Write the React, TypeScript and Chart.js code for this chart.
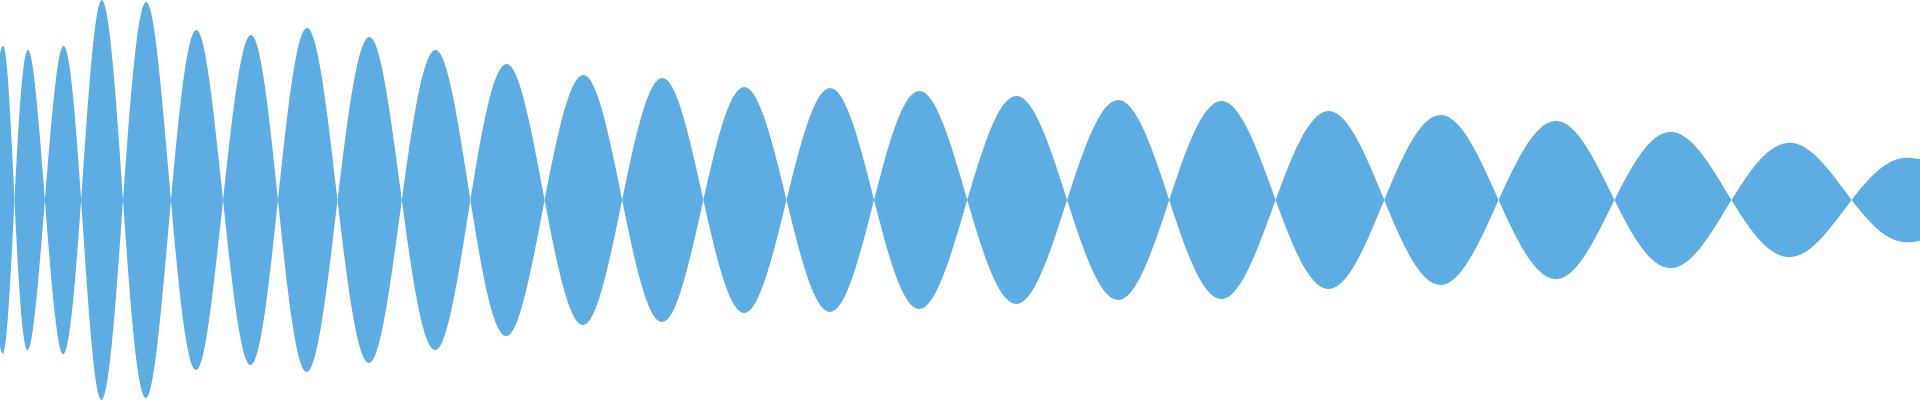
import React, { FC, useEffect, useRef } from 'react'
import Chart from 'chart.js/auto'

// centre of each lobe of the wave (x) and its height; the first and last
// entries sit just outside the visible range so the wave runs off both edges
const peakX = [
  -20, 3, 28, 64, 102, 146, 196, 251, 307, 369, 435, 506, 583, 662, 744, 830,
  919, 1016, 1118, 1221, 1328, 1440, 1555, 1669, 1787, 1903, 2019,
]
const peakAmp = [
  150, 154, 150, 154, 200, 198, 170, 165, 172, 163, 150, 136, 125, 122, 113,
  112, 109, 104, 100, 99, 89, 85, 79, 68, 57, 42, 30,
]

const COLOR = '#5dade2'

const App: FC = () => {
  const chartRef = useRef<HTMLCanvasElement>(null)
  const chartInstanceRef = useRef<Chart | null>(null)

  useEffect(() => {
    if (!chartRef.current) return
    const ctx = chartRef.current.getContext('2d')
    if (!ctx) return

    // signed wave: lobes alternate above and below the axis,
    // the mirrored copy fills the other half
    const wave = peakX.map((x, i) => ({
      x,
      y: i % 2 === 0 ? -peakAmp[i] : peakAmp[i],
    }))
    const mirror = wave.map((p) => ({ x: p.x, y: -p.y }))

    const series = (data: { x: number; y: number }[]) => ({
      data,
      fill: 'origin',
      backgroundColor: COLOR,
      borderColor: COLOR,
      borderWidth: 0,
      pointRadius: 0,
      tension: 0.36,
    })

    if (chartInstanceRef.current) {
      chartInstanceRef.current.destroy()
    }

    chartInstanceRef.current = new Chart(ctx, {
      type: 'line',
      data: { datasets: [series(wave), series(mirror)] as any },
      options: {
        responsive: true,
        maintainAspectRatio: false,
        animation: false,
        layout: { padding: 0 },
        plugins: {
          legend: { display: false },
          tooltip: { enabled: false },
        },
        scales: {
          x: { type: 'linear', min: 0, max: 1920, display: false },
          y: { min: -200, max: 200, display: false },
        },
      },
    })

    return () => {
      if (chartInstanceRef.current) {
        chartInstanceRef.current.destroy()
        chartInstanceRef.current = null
      }
    }
  }, [])

  return (
    <div
      style={{
        position: 'fixed',
        left: 0,
        top: 0,
        width: 1920,
        height: 400,
        background: '#fff',
      }}
    >
      <canvas ref={chartRef}></canvas>
    </div>
  )
}

export default App
